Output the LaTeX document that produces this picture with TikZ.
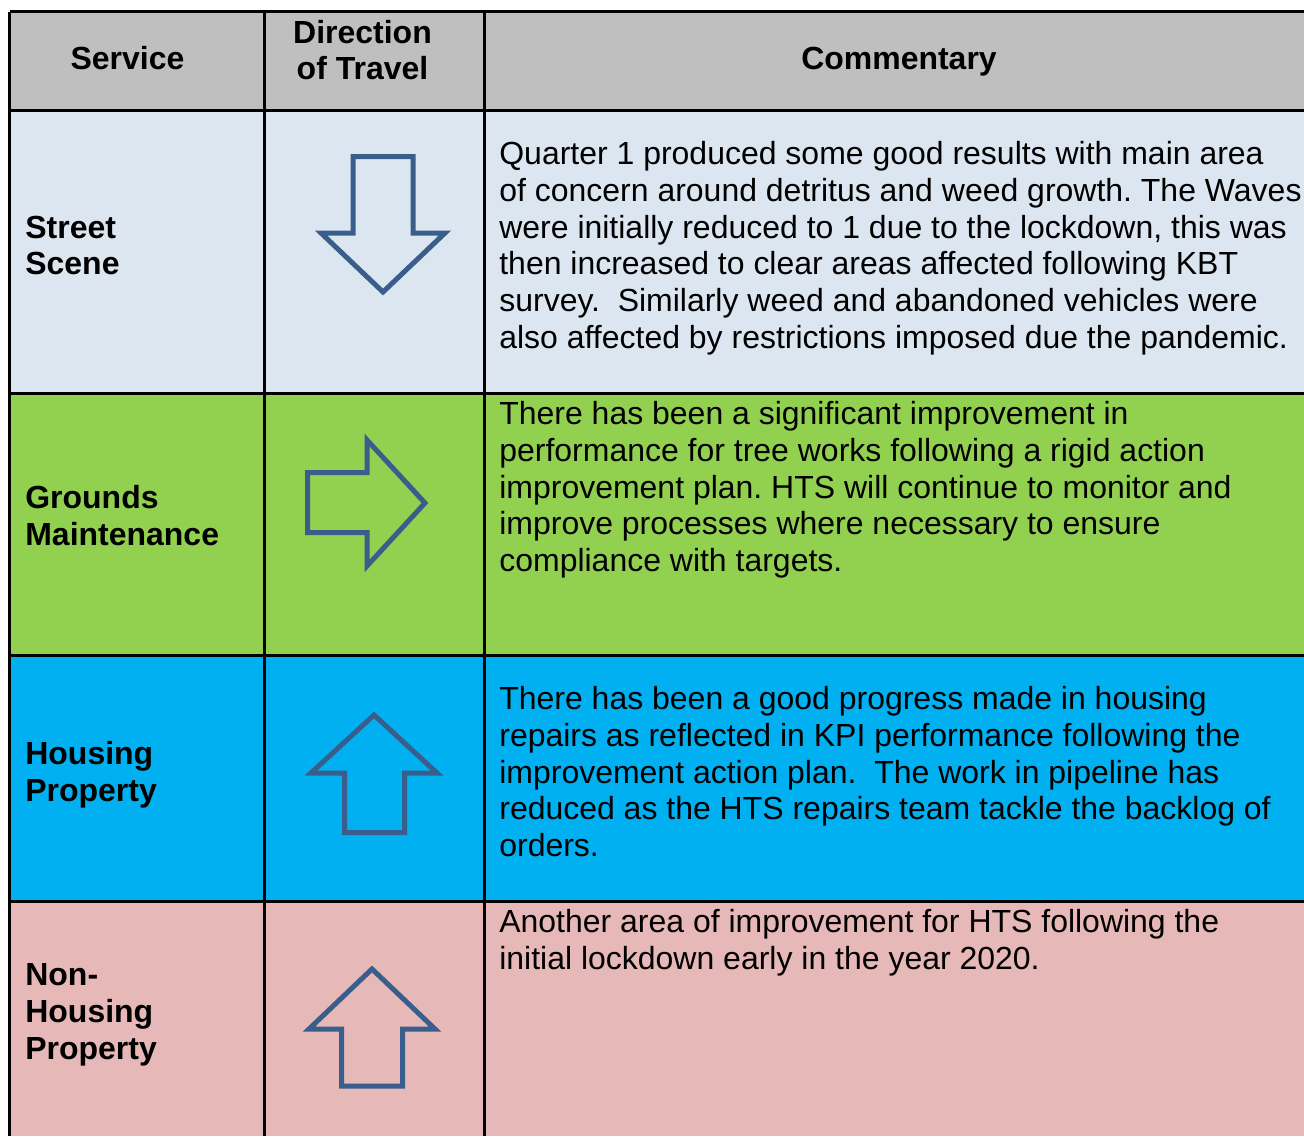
\documentclass[tikz,border=0pt]{standalone}
\usepackage{fontspec}
\setmainfont{Liberation Sans}
\definecolor{hdgray}{HTML}{BFBFBF}
\definecolor{streetblue}{HTML}{DCE6F1}
\definecolor{groundsgreen}{HTML}{92D050}
\definecolor{housingblue}{HTML}{00B0F0}
\definecolor{nonhousingpink}{HTML}{E6B8B7}
\definecolor{trendblue}{HTML}{3A5E8C}
\tikzset{
  cell/.style={inner sep=0pt, align=left, font=\fontsize{18.2pt}{20.94pt}\selectfont\frenchspacing},
  head/.style={cell, align=center, font=\fontsize{18.2pt}{20.94pt}\selectfont\bfseries},
  svc/.style={cell, font=\fontsize{18.2pt}{20.94pt}\selectfont\bfseries},
  trend/.style={draw=trendblue, line width=0.1cm, line join=miter},
  rule/.style={line width=0.06cm}
}
\begin{document}
\begin{tikzpicture}[x=0.02cm, y=-0.02cm]
      \useasboundingbox (0,0) rectangle (1304,1136);
      % cell fills
      \fill[hdgray] (10,11.5) rectangle (1304,110);
      \fill[streetblue] (10,110) rectangle (1304,393);
      \fill[groundsgreen] (10,393) rectangle (1304,655);
      \fill[housingblue] (10,655) rectangle (1304,901);
      \fill[nonhousingpink] (10,901) rectangle (1304,1136);
      % rules
      \begin{scope}[rule]
        \draw (9.5,11.5) -- (1304,11.5);
        \draw (9.5,110) -- (1304,110);
        \draw (9.5,393) -- (1304,393);
        \draw (9.5,655) -- (1304,655);
        \draw (9.5,901) -- (1304,901);
        \draw (9.5,11.5) -- (9.5,1136);
        \draw (264,11.5) -- (264,1136);
        \draw (484.5,11.5) -- (484.5,1136);
      \end{scope}
      % header (base = last line)
      \node[head, anchor=base] (hdsvc) at (127.5,69.5) {Service};
      \node[head, anchor=base] (hddir) at (362.5,79.8) {Direction\\of Travel};
      \node[head, anchor=base] (hdcom) at (899,69.5) {Commentary};
      % services
      \node[svc, anchor=base west] (svc1) at (25,274.8) {Street\\Scene};
      \node[svc, anchor=base west] (svc2) at (25,545.3) {Grounds\\Maintenance};
      \node[svc, anchor=base west] (svc3) at (25,801.3) {Housing\\Property};
      \node[svc, anchor=base west] (svc4) at (25,1059.1) {Non-\\Housing\\Property};
      % direction of travel
      \draw[trend] (353,156.5) -- (413,156.5) -- (413,233) -- (445,233)
        -- (383,292) -- (321,233) -- (353,233) -- cycle;
      \draw[trend] (307.5,472.5) -- (367,472.5) -- (367,440) -- (425,503)
        -- (367,566) -- (367,532.5) -- (307.5,532.5) -- cycle;
      \draw[trend] (374,715) -- (437,773) -- (404.5,773) -- (404.5,832.5)
        -- (344.5,832.5) -- (344.5,773) -- (311,773) -- cycle;
      \draw[trend] (372,969) -- (435,1029) -- (402.5,1029) -- (402.5,1086)
        -- (341.5,1086) -- (341.5,1029) -- (309,1029) -- cycle;
      % commentary
      \node[cell, anchor=base west] (com1) at (499,348.5) {Quarter 1 produced some good results with main area\\
        of concern around detritus and weed growth. The Waves\\
        were initially reduced to 1 due to the lockdown, this was\\
        then increased to clear areas affected following KBT\\
        survey.\ \ Similarly weed and abandoned vehicles were\\
        also affected by restrictions imposed due the pandemic.};
      \node[cell, anchor=base west] (com2) at (499,571.7) {There has been a significant improvement in\\
        performance for tree works following a rigid action\\
        improvement plan. HTS will continue to monitor and\\
        improve processes where necessary to ensure\\
        compliance with targets.};
      \node[cell, anchor=base west] (com3) at (499,856.7) {There has been a good progress made in housing\\
        repairs as reflected in KPI performance following the\\
        improvement action plan.\ \ The work in pipeline has\\
        reduced as the HTS repairs team tackle the backlog of\\
        orders.};
      \node[cell, anchor=base west] (com4) at (499,969.3) {Another area of improvement for HTS following the\\
        initial lockdown early in the year 2020.};
    \end{tikzpicture}
\end{document}
